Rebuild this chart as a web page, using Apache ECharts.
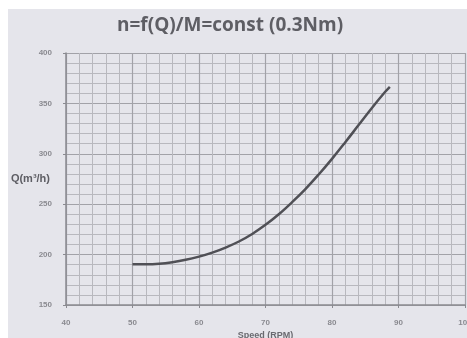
<!DOCTYPE html>
<html><head><meta charset="utf-8">
<script src="https://cdn.jsdelivr.net/npm/echarts@6/dist/echarts.min.js"></script>
<style>html,body{margin:0;padding:0;background:#fff}#c{width:467px;height:338px}</style>
</head><body><div id="c"></div>
<script>
const titleText = "n=f(Q)/M=const (0.3Nm)";
const xName = "Speed (RPM)";
const yName = "Q(m³/h)";
const speed = [50, 52, 54, 56, 58, 60, 62, 64, 66, 68, 70, 72, 74, 76, 78, 80, 82, 84, 86, 88, 88.7];
const flow  = [190.5, 190.5, 191, 192.5, 194.8, 198, 202, 207, 213, 220.5, 229.5, 240, 252, 265, 279.5, 295, 311.5, 328.5, 345.5, 361.5, 366.5];
const xTicks = [40, 50, 60, 70, 80, 90, 100];
const yTicks = [150, 200, 250, 300, 350, 400];

const chart = echarts.init(document.getElementById('c'));
chart.setOption({
  animation: false,
  backgroundColor: '#ffffff',
  graphic: [{type:'rect', left: 8, top: 9, shape:{width: 459, height: 329}, style:{fill:'#e5e5eb'}, z: -10}],
  title: {text: titleText, left: 112, top: 11,
    textStyle:{fontFamily:'Open Sans', fontSize: 19, fontWeight:'bold', color:'#5e5e64'}},
  grid: {left: 66, right: 2, top: 53, bottom: 33, outerBoundsMode: 'none', containLabel: false},
  xAxis: {type:'value', min: xTicks[0], max: xTicks[xTicks.length-1], interval: 10,
    name: xName, nameLocation:'middle', nameGap: 26, nameMoveOverlap: false,
    nameTextStyle:{color:'#6a6a70', fontSize: 9, fontWeight:'bold'},
    axisLine:{show:true, lineStyle:{color:'#8a8a90', width:1.5}},
    axisTick:{show:true, length:3, lineStyle:{color:'#8a8a90'}},
    axisLabel:{color:'#8a8a90', fontSize: 8, margin: 14, fontWeight:'bold'},
    splitLine:{show:true, lineStyle:{color:'#a2a2a8', width:1.2}},
    minorTick:{show:false, splitNumber:5},
    minorSplitLine:{show:true, lineStyle:{color:'#b8b8be', width:1}}},
  yAxis: {type:'value', min: yTicks[0], max: yTicks[yTicks.length-1], interval: 50,
    name: yName, nameLocation:'middle', nameGap: 16, nameRotate: 0, nameMoveOverlap: false,
    nameTextStyle:{color:'#5e5e64', fontSize: 11, fontWeight:'bold'},
    axisLine:{show:true, lineStyle:{color:'#8a8a90', width:1.5}},
    axisTick:{show:true, length:3, lineStyle:{color:'#8a8a90'}},
    axisLabel:{color:'#8a8a90', fontSize: 8, margin: 14, fontWeight:'bold'},
    splitLine:{show:true, lineStyle:{color:'#a2a2a8', width:1.2}},
    minorTick:{show:false, splitNumber:5},
    minorSplitLine:{show:true, lineStyle:{color:'#b8b8be', width:1}}},
  series: [{type:'line', smooth: 0.4, symbol:'none',
    data: speed.map((s,i)=>[s, flow[i]]),
    lineStyle:{color:'#505056', width:2.5}}]
});
</script></body></html>
